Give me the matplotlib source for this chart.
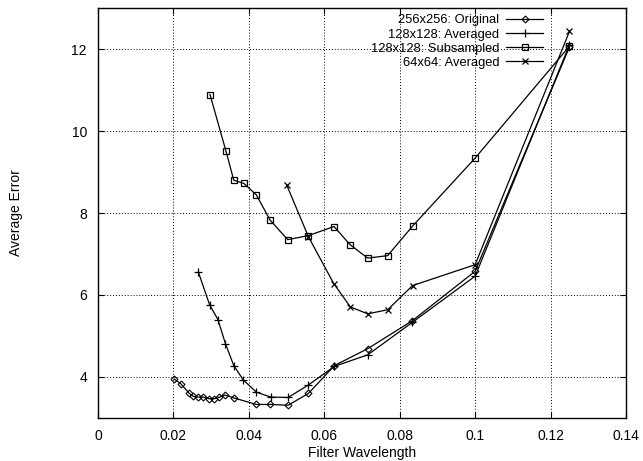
import numpy as np
import matplotlib
matplotlib.use("Agg")
import matplotlib.pyplot as plt

plt.rcParams['font.family'] = ['Liberation Sans', 'DejaVu Sans']

# 256x256: Original
x_orig = [0.0202, 0.0219, 0.0241, 0.0252, 0.0264, 0.0279, 0.0294, 0.0308, 0.0320,
          0.0336, 0.0360, 0.0420, 0.0457, 0.0504, 0.0558, 0.0627, 0.0715, 0.0833,
          0.1000, 0.1250]
y_orig = [3.95, 3.84, 3.61, 3.53, 3.51, 3.51, 3.47, 3.47, 3.50,
          3.56, 3.49, 3.33, 3.33, 3.31, 3.60, 4.28, 4.69, 5.37,
          6.58, 12.05]

# 128x128: Averaged
x_avg128 = [0.0266, 0.0296, 0.0318, 0.0338, 0.0360, 0.0385, 0.0420, 0.0458, 0.0504,
            0.0557, 0.0627, 0.0715, 0.0833, 0.1000, 0.1250]
y_avg128 = [6.56, 5.76, 5.40, 4.81, 4.28, 3.93, 3.63, 3.51, 3.50,
            3.80, 4.26, 4.54, 5.33, 6.46, 12.10]

# 128x128: Subsampled
x_sub = [0.0297, 0.0339, 0.0360, 0.0387, 0.0420, 0.0456, 0.0503, 0.0558, 0.0626,
         0.0668, 0.0715, 0.0768, 0.0834, 0.1000, 0.1250]
y_sub = [10.89, 9.52, 8.80, 8.72, 8.44, 7.83, 7.35, 7.45, 7.67,
         7.23, 6.90, 6.96, 7.68, 9.34, 12.07]

# 64x64: Averaged
x_avg64 = [0.0500, 0.0558, 0.0625, 0.0669, 0.0715, 0.0768, 0.0834, 0.1000, 0.1250]
y_avg64 = [8.69, 7.42, 6.28, 5.71, 5.54, 5.64, 6.23, 6.74, 12.43]

fig = plt.figure(figsize=(6.43, 4.61), dpi=100)
ax = fig.add_axes([0.1524, 0.0933, 0.8212, 0.8893])

ax.plot(x_orig, y_orig, 'k-', marker='D', markersize=3.5, markerfacecolor='none',
        markeredgewidth=0.8, linewidth=0.9, label='256x256: Original')
ax.plot(x_avg128, y_avg128, 'k-', marker='+', markersize=6, markeredgewidth=0.9,
        linewidth=0.9, label='128x128: Averaged')
ax.plot(x_sub, y_sub, 'k-', marker='s', markersize=5, markerfacecolor='none',
        markeredgewidth=0.9, linewidth=0.9, label='128x128: Subsampled')
ax.plot(x_avg64, y_avg64, 'k-', marker='x', markersize=5, markeredgewidth=0.9,
        linewidth=0.9, label='64x64: Averaged')

ax.set_xlim(0, 0.14)
ax.set_ylim(3, 13)
ax.set_xticks([0, 0.02, 0.04, 0.06, 0.08, 0.1, 0.12, 0.14])
ax.set_xticklabels(['0', '0.02', '0.04', '0.06', '0.08', '0.1', '0.12', '0.14'])
ax.set_yticks([4, 6, 8, 10, 12])
ax.tick_params(direction='in', top=True, right=True, length=4, labelsize=10, pad=8)
ax.grid(True, linestyle=(0, (1, 2)), color='k', linewidth=0.7)
for s in ax.spines.values():
    s.set_linewidth(1.0)

ax.set_xlabel('Filter Wavelength', fontsize=10, labelpad=2)
ax.set_ylabel('Average Error', fontsize=10, labelpad=35)

leg = ax.legend(loc='upper right', bbox_to_anchor=(0.853, 0.997), frameon=False,
                markerfirst=False, handlelength=2.9, handletextpad=0.5,
                labelspacing=0.16, borderaxespad=0, fontsize=9.3)
for t in leg.get_texts():
    t.set_ha('right')

fig.savefig('out.png', dpi=100)
